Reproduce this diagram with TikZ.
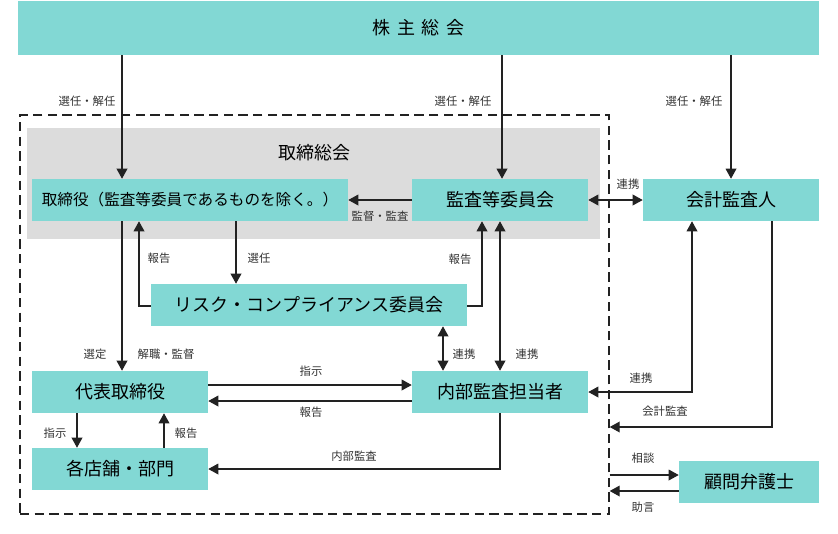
\documentclass[tikz,border=0pt]{standalone}
\usepackage{fontspec}
\setmainfont{Noto Sans CJK JP}
\usetikzlibrary{arrows.meta}
\definecolor{teal1}{RGB}{130,216,212}
\definecolor{gray1}{RGB}{220,220,220}
\definecolor{ln}{RGB}{34,34,34}
\begin{document}
\begin{tikzpicture}[x=0.75pt,y=-0.75pt,
  box/.style={fill=teal1, draw=none, inner sep=0, minimum height=31.5pt, font=\fontsize{13.5}{15}\selectfont, text=black},
  lbl/.style={font=\fontsize{8.5}{10}\selectfont, text=black!80, inner sep=0},
  conn/.style={draw=ln, line width=1pt},
  arr/.style={conn, -{Triangle[length=7.5pt,width=8pt]}},
  darr/.style={conn, {Triangle[length=7.5pt,width=8pt]}-{Triangle[length=7.5pt,width=8pt]}}]
\useasboundingbox (0,0) rectangle (838,533);
% frames
\node[draw=ln, line width=1pt, dash pattern=on 7pt off 4pt, inner sep=0, minimum width=441.75pt, minimum height=299.25pt] (grp) at (314.5,314.5) {};
\node[fill=gray1, inner sep=0, minimum width=429.75pt, minimum height=83.25pt] (board) at (313.5,183.5) {};
\node[font=\fontsize{13.5}{15}\selectfont, inner sep=0] (boardlbl) at (314,153) {取締総会};
% boxes
\node[box, minimum width=600.75pt, minimum height=40.5pt] (kabu) at (418.5,28) {株\hspace{5pt}主\hspace{5pt}総\hspace{5pt}会};
\node[box, minimum width=237pt, font=\fontsize{11.7}{14}\selectfont] (tori) at (190,200) {取締役（監査等委員であるものを除く。）};
\node[box, minimum width=132pt] (kansa) at (500,200) {監査等委員会};
\node[box, minimum width=132pt] (kaikei) at (731,200) {会計監査人};
\node[box, minimum width=237pt] (risk) at (309,305) {リスク・コンプライアンス委員会};
\node[box, minimum width=132pt] (daihyo) at (120,392) {代表取締役};
\node[box, minimum width=132pt] (naibu) at (500,392) {内部監査担当者};
\node[box, minimum width=132pt] (kakuten) at (120,469) {各店舗・部門};
\node[box, minimum width=105pt] (komon) at (749,482) {顧問弁護士};
% helper coordinates
\coordinate (xa) at (122,0);
\coordinate (xb) at (502,0);
\coordinate (xc) at (731,0);
\coordinate (xd) at (236,0);
\coordinate (xe) at (139,0);
\coordinate (xf) at (482,0);
\coordinate (xg) at (443,0);
\coordinate (xh) at (500,0);
\coordinate (xi) at (77,0);
\coordinate (xj) at (164,0);
\coordinate (xk) at (692,0);
\coordinate (xl) at (772,0);
\coordinate (ya) at (0,306);
\coordinate (yb) at (0,385);
\coordinate (yc) at (0,401);
\coordinate (yd) at (0,469);
\coordinate (ye) at (0,392);
\coordinate (yf) at (0,427);
\coordinate (yg) at (0,475);
\coordinate (yh) at (0,491);
% connectors
\draw[arr] (kabu.south -| xa) -- (tori.north -| xa);
\draw[arr] (kabu.south -| xb) -- (kansa.north -| xb);
\draw[arr] (kabu.south -| xc) -- (kaikei.north -| xc);
\draw[arr] (kansa.west) -- (tori.east);
\draw[darr] (kansa.east) -- (kaikei.west);
\draw[arr] (tori.south -| xa) -- (daihyo.north -| xa);
\draw[arr] (tori.south -| xd) -- (risk.north -| xd);
\draw[arr] (risk.west |- ya) -| (tori.south -| xe);
\draw[arr] (risk.east |- ya) -| (kansa.south -| xf);
\draw[darr] (risk.south -| xg) -- (naibu.north -| xg);
\draw[darr] (kansa.south -| xh) -- (naibu.north -| xh);
\draw[arr] (daihyo.east |- yb) -- (naibu.west |- yb);
\draw[arr] (naibu.west |- yc) -- (daihyo.east |- yc);
\draw[arr] (daihyo.south -| xi) -- (kakuten.north -| xi);
\draw[arr] (kakuten.north -| xj) -- (daihyo.south -| xj);
\draw[arr] (naibu.south -| xh) |- (kakuten.east |- yd);
\draw[darr] (naibu.east |- ye) -| (kaikei.south -| xk);
\draw[arr] (kaikei.south -| xl) |- (grp.east |- yf);
\draw[arr] (grp.east |- yg) -- (komon.west |- yg);
\draw[arr] (komon.west |- yh) -- (grp.east |- yh);
% labels
\node[lbl] (l1) at (87,101) {選任・解任};
\node[lbl] (l2) at (463,101) {選任・解任};
\node[lbl] (l3) at (694,101) {選任・解任};
\node[lbl] (l4) at (380,216) {監督・監査};
\node[lbl] (l5) at (628,184) {連携};
\node[lbl] (l6) at (259,258) {選任};
\node[lbl] (l7) at (159,258) {報告};
\node[lbl] (l8) at (460,259) {報告};
\node[lbl] (l9) at (95,354) {選定};
\node[lbl] (l10) at (166,354) {解職・監督};
\node[lbl] (l11) at (464,354) {連携};
\node[lbl] (l12) at (527,354) {連携};
\node[lbl] (l13) at (311,371) {指示};
\node[lbl] (l14) at (311,412) {報告};
\node[lbl] (l15) at (55,433) {指示};
\node[lbl] (l16) at (186,433) {報告};
\node[lbl] (l17) at (354,456) {内部監査};
\node[lbl] (l18) at (641,378) {連携};
\node[lbl] (l19) at (665,411) {会計監査};
\node[lbl] (l20) at (643,458) {相談};
\node[lbl] (l21) at (643,507) {助言};
\end{tikzpicture}
\end{document}
